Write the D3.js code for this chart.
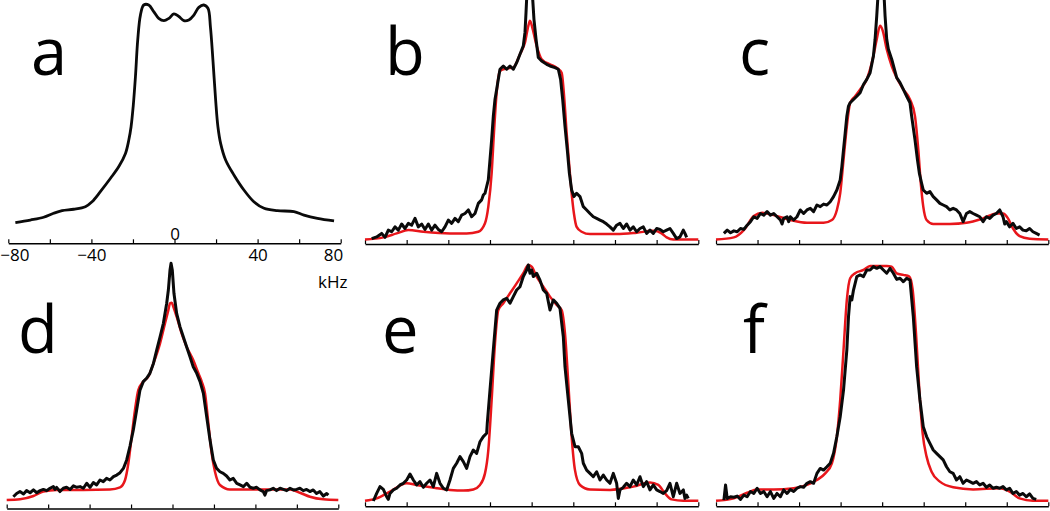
<!DOCTYPE html>
<html>
<head>
<meta charset="utf-8">
<script src="https://cdn.jsdelivr.net/npm/d3@7"></script>
<style>
  body { margin: 0; background: #fff; }
  svg { display: block; }
  text { font-family: "Open Sans", "Noto Sans", sans-serif; }
</style>
</head>
<body>
<svg id="chart" width="1050" height="511"></svg>
<script>
// frequency axis (kHz)
var xTicks = [-80, -60, -40, -20, 0, 20, 40, 60, 80];
var xTickLabels = [-80, -40, 0, 40, 80];
var panelLetters = ["a", "b", "c", "d", "e", "f"];

// spectra: [kHz, intensity %]
var specA = [[-76.6,7.2],[-69.4,8.3],[-63,9.5],[-58.2,11.2],[-54.1,12.3],[-48.5,12.9],[-42.9,14],[-39.7,16.1],[-35.7,20.4],[-30.8,26.1],[-26.8,31.1],[-23.6,36.7],[-22,42.4],[-20.9,48.1],[-19.9,56.6],[-18.8,69.4],[-17.7,85.1],[-16.4,95.7],[-14.8,100],[-12.4,100],[-10,97.2],[-7.6,94.3],[-5.1,93.3],[-2.7,94.3],[-0.3,96.2],[2.1,95.1],[4.5,93.3],[6.9,93.6],[9.3,95.7],[11.7,99],[14.1,100],[16.1,98.6],[17.3,90.6],[18.5,76.5],[19.8,59.5],[20.9,48.1],[22.2,41],[24.6,33.9],[28.6,27.5],[33.4,21.1],[38.2,16.1],[43.1,13.3],[49.5,12.3],[57.5,11.9],[62.3,10.4],[68.8,9],[76.8,7.9]];

var specB = [[-76.8,0.4],[-74.4,1.1],[-72,2.6],[-70.4,0.9],[-68.8,4],[-67.2,3.3],[-65.6,5.4],[-64,4],[-62.4,6.6],[-60.8,4.7],[-59.2,6.9],[-57.6,6.1],[-56,9],[-54.4,5.4],[-52.8,6.6],[-51.2,4.3],[-49.6,6.6],[-48,4],[-46.4,6.1],[-44.8,4.3],[-43.2,3.3],[-41.6,5.4],[-40,8.3],[-38.4,6.9],[-36.8,9],[-35.2,7.6],[-33.6,10.4],[-32,11.1],[-30.4,12.6],[-28.8,9.7],[-27.2,11.1],[-25.6,15.4],[-24,16.9],[-23.2,19],[-22.4,19.7],[-21.6,22.6],[-20.8,25.4],[-20,34],[-19.2,42.6],[-18.4,52.6],[-17.6,59.7],[-16.8,64],[-16,68.3],[-15.2,72.6],[-13.6,74],[-12,72.6],[-10.4,74],[-8.8,72.6],[-7.2,75.4],[-5.6,79],[-4,82.6],[-3.2,88.3],[-2.7,96.9],[-2.4,102.6],[-1,125],[0.5,102.6],[1.1,94],[2.1,85.4],[3.2,77.6],[4.8,76.1],[7.2,74.7],[8.8,74],[11.2,73.3],[12.8,72.6],[13.9,68.3],[14.9,59.7],[16,48.3],[17.1,38.3],[18.1,28.3],[19.2,21.1],[20.3,18.3],[21.6,19.7],[23.2,18.3],[24.8,14],[26.4,12.6],[28,11.1],[29.6,9.7],[31.2,9],[32.8,8.3],[34.4,7.6],[36,6.6],[37.6,5.4],[39.2,4],[40.8,6.1],[42.4,6.9],[44,4.7],[45.6,6.6],[47.2,4],[48.8,5.4],[50.4,3.3],[52,4.7],[53.6,5.4],[55.2,2.6],[56.8,4],[58.4,2.6],[60,4.7],[61.6,4.3],[63.2,3.3],[64.8,4],[66.4,4.7],[68,2.6],[69.6,0.4],[71.2,1.1],[72.8,4],[73.6,2.6],[74.4,0.9]];
var fitB = [[-80,0],[-71.2,0.9],[-64.8,2.6],[-59.2,4],[-52,3.3],[-39.2,2.6],[-31.2,2.6],[-25.6,3.3],[-22.4,6.9],[-20.8,14],[-19.2,28.3],[-18.1,45.4],[-16.8,62.6],[-15.2,71.9],[-12,72.9],[-8.8,73.3],[-5.6,79],[-3.2,84],[-1.6,91.1],[-0.8,93.3],[0.5,89.7],[2.4,82.6],[4.8,76.9],[8.8,74.7],[12,73.3],[14.4,71.1],[15.7,59.7],[16.8,45.4],[18.1,31.1],[19.2,19.7],[20.3,11.1],[21.6,5.4],[24,3.3],[28,2.3],[40.8,2.3],[50.4,2.9],[58.4,3.7],[62.4,2.6],[64.8,0.9],[68,0],[80,0]];

var specC = [[-76.2,2.6],[-74.6,4],[-73,2.9],[-71.4,3.7],[-69.8,3.3],[-68.2,4.7],[-66.6,4.3],[-65,6.1],[-63.4,7.6],[-61.8,9.7],[-60.2,9],[-58.6,11.1],[-57,10.4],[-55.4,11.9],[-53.8,10.4],[-52.2,11.1],[-50.6,9.7],[-49,8.3],[-48.2,6.6],[-47.4,9],[-45.8,9.7],[-45,7.6],[-44.2,9.7],[-42.6,8.3],[-41,9.7],[-39.4,12.6],[-37.8,11.1],[-36.2,12.6],[-34.6,13.3],[-33,11.9],[-31.4,14.7],[-29.8,14],[-28.2,15.1],[-26.6,14.7],[-25,16.1],[-23.4,18.3],[-21.8,21.1],[-20.2,25.4],[-19.4,31.1],[-18.6,38.3],[-17.8,45.4],[-17,52.6],[-16.2,56.9],[-15.4,58.3],[-13.8,59.7],[-12.2,61.1],[-10.6,62.6],[-9,66.1],[-7.4,68.3],[-5.8,71.1],[-4.2,78.3],[-3.4,85.4],[-2.6,95.4],[-2.1,102.6],[-0.5,125],[1,102.6],[1.4,95.4],[2.2,85.4],[3,81.1],[4.6,76.9],[7,69],[8.6,66.9],[10.2,64],[11.8,61.1],[13.4,58.3],[14.2,52.6],[15.8,42.6],[17,34],[17.9,28.3],[19,24],[19.8,21.1],[21.4,19.7],[23,20.4],[24.6,18.3],[26.2,16.9],[27.8,15.4],[29.4,14.7],[31,14],[32.6,12.6],[34.2,13.3],[35.8,12.6],[37.4,11.1],[39,7.6],[40.6,11.1],[42.2,11.9],[43.8,11.1],[45.4,10.4],[47,9.7],[48.6,7.6],[50.2,9.7],[51.8,9],[53.4,10.4],[55,11.1],[56.6,12.6],[58.2,9.7],[59,6.6],[59.8,7.6],[61.4,5.4],[63,6.9],[64.6,4.7],[66.2,5.4],[67.8,4],[69.4,3.7],[71,4.7],[72.6,3.3],[74.2,2.6],[75.8,1.9]];
var fitC = [[-80,0],[-71.4,0.9],[-66.6,4],[-61.8,10],[-57.8,11.4],[-52.2,10.4],[-44.2,8.3],[-36.2,7.1],[-28.2,7.1],[-24.2,8.3],[-21.8,12.6],[-20.2,19.7],[-18.6,34],[-17,48.3],[-15.4,58.3],[-13,61.1],[-10.6,64],[-7.4,68.3],[-4.2,78.3],[-2.6,85.4],[-1,91.1],[0.3,89],[2.2,81.1],[4.6,74],[7,69],[10.2,64],[13.4,59.7],[15.8,52.6],[17.4,38.3],[18.6,24],[19.8,14],[21.4,8.3],[24.6,6.6],[32.6,6.6],[40.6,7.1],[48.6,9],[55,11.1],[58.2,11.1],[60.6,9],[63,4.7],[66.2,1.4],[71,0.3],[80,0]];

var specD = [[-76.8,1.8],[-75.2,3.2],[-73.6,4],[-71.9,3],[-70.4,4.4],[-68.7,3.5],[-67.1,4.7],[-65.5,3.5],[-63.9,4.4],[-62.3,4.9],[-60.7,4.4],[-59.1,5.4],[-57.5,6.1],[-56.7,4.9],[-55.9,5.8],[-54.3,4],[-52.7,5.4],[-51.1,5.8],[-49.4,4.9],[-47.8,6.4],[-46.2,5.8],[-44.6,6.1],[-43,5.4],[-41.4,7.5],[-39.8,5.8],[-38.2,7.8],[-36.6,6.8],[-35,8.9],[-33.4,8.2],[-31.8,9.6],[-30.2,8.9],[-28.5,10.3],[-26.9,11],[-25.3,12],[-23.7,13.8],[-22.1,17.4],[-20.5,23.3],[-18.9,30.1],[-17.3,38.6],[-15.7,47],[-14.1,50.6],[-12.5,52],[-10.9,54.1],[-9.2,58.3],[-7.6,64],[-6,69.6],[-4.4,75.3],[-2.8,83.8],[-2,89.4],[-1.2,97.9],[-0.7,100.7],[-0.1,97.9],[0.7,88],[2,79.5],[3.6,73.9],[5.2,69.6],[6.8,65.4],[8.4,61.2],[10,56.9],[11.7,54.1],[13.3,50.6],[14.9,45.6],[16.5,35.7],[18.1,25.8],[19.7,17.4],[21.3,13.8],[22.9,12.4],[24.5,11.7],[26.1,10.6],[27.7,8.9],[29.3,9.6],[31,7.5],[32.6,6.8],[34.2,6.1],[35.8,7.5],[37.4,5.8],[39,5.4],[40.6,5.8],[42.2,4.7],[43.8,4],[44.6,2.5],[45.4,4.4],[47,4.7],[48.6,5.4],[50.2,4.4],[51.9,5.4],[53.5,4.9],[55.1,4.4],[56.7,5.4],[58.3,4.7],[59.9,4.9],[61.5,5.4],[63.1,4.4],[64.7,4.9],[66.3,4],[67.9,4.7],[69.5,3.2],[71.1,4],[72.8,2.1],[74.4,3.2],[75.2,2.5]];
var fitD = [[-80,0.4],[-73.6,0.7],[-67.1,2.1],[-62.3,4],[-55.9,4.7],[-43,4.7],[-30.2,4.9],[-25.3,5.8],[-22.9,8.9],[-21.3,16],[-19.7,27.3],[-18.1,38.6],[-16.5,47],[-14.1,50.6],[-11.7,52.7],[-9.2,58.3],[-6,66.8],[-3.6,75.3],[-2,80.9],[-1.2,83.8],[-0.4,84],[0.4,82.3],[2,78.1],[4.4,71],[6.8,65.4],[10,59.7],[12.5,54.1],[14.1,50.6],[15.7,45.6],[17.3,32.9],[18.9,20.2],[20.5,12.4],[22.9,6.8],[27.7,4.9],[45.4,4.9],[56.7,4.9],[61.5,3.5],[66.3,1.8],[72.8,0.7],[80,0.4]];

var specE = [[-76,0],[-74.4,3.2],[-72.8,6.1],[-71.2,4.9],[-69.6,1.8],[-68.8,0.7],[-68,3.2],[-66.4,4.7],[-64.8,5.4],[-63.2,6.8],[-61.6,7.5],[-60,8.9],[-58.4,11.4],[-56.8,8.9],[-55.2,6.8],[-53.6,8.2],[-52,5.8],[-50.4,7.5],[-48.8,8.9],[-47.2,6.1],[-45.6,11.7],[-44,7.5],[-42.4,5.4],[-40.8,4.7],[-39.2,8.9],[-37.6,13.8],[-36,16],[-34.4,18.8],[-32.8,16.7],[-31.2,13.8],[-29.6,18.8],[-28,21.6],[-26.4,20.2],[-24.8,25.1],[-23.2,27.3],[-21.6,28.7],[-21.3,32.9],[-20,47],[-18.4,64],[-16.8,80.9],[-15.2,83.8],[-13.6,85.2],[-12,85.9],[-10.4,83.8],[-8.8,86.6],[-7.2,89.4],[-5.6,90.8],[-4,95.1],[-2.4,97.9],[-1.6,100],[-0.8,96.5],[0,97.9],[0.8,95.1],[2.4,96.5],[4,93.6],[5.6,89.4],[7.2,88],[8.8,80.9],[10.4,85.2],[12,83.8],[13.6,81.6],[15.2,69.6],[16,56.9],[17.6,42.8],[19.2,28.7],[20.8,23],[22.4,23],[24,20.2],[24.8,16],[26.4,13.1],[28,11.7],[29.6,10.3],[31.2,12.4],[32.8,8.9],[34.4,11],[36,8.9],[37.6,7.5],[39.2,11.7],[40.8,7.5],[41.6,1.1],[42.4,4.7],[44,5.8],[45.6,7.5],[47.2,6.1],[48.8,8.9],[50.4,6.8],[52,10.3],[53.6,6.1],[55.2,8.2],[56.8,4.7],[58.4,6.8],[60,4.7],[61.6,4],[63.2,3.2],[64.8,4.4],[66.4,7.5],[68,1.8],[69.6,7.5],[71.2,3.2],[72.8,4.7],[73.6,1.1],[74.4,2.5],[75.2,1.1]];
var fitE = [[-80,0.1],[-74.4,1.1],[-68,4],[-60,7.5],[-55.2,6.8],[-45.6,5.4],[-39.2,4.7],[-32.8,4.4],[-28,4.9],[-24.8,6.8],[-22.4,11.7],[-20.8,21.6],[-19.2,42.8],[-17.6,66.8],[-16,80.9],[-13.6,83.8],[-10.4,88],[-7.2,92.2],[-4,96.5],[-1.6,100],[0,99.3],[2.4,95.1],[5.6,90.8],[8.8,86.6],[12,83.1],[14.4,80.9],[16,71],[17.6,49.9],[19.2,27.3],[20.8,13.1],[23.2,6.8],[28,4.9],[37.6,4.7],[48.8,6.1],[56.8,7.8],[60.8,6.8],[64,3.2],[67.2,0.7],[72.8,0.1],[80,0.1]];

var specF = [[-76.2,0.4],[-75.4,6.8],[-74.6,1.1],[-73,1.8],[-71.4,1.6],[-69.8,2.1],[-68.2,0.7],[-66.6,2.5],[-65,1.8],[-63.4,4],[-61.8,3.2],[-60.2,5.4],[-58.6,3.2],[-57,4],[-55.4,1.8],[-53.8,4],[-52.2,1.1],[-50.6,3.2],[-49,1.8],[-47.4,4.7],[-45.8,3.2],[-44.2,4.9],[-42.6,4],[-41,5.4],[-39.4,6.1],[-37.8,5.8],[-36.2,7.5],[-34.6,8.2],[-33,7.5],[-31.4,11.7],[-29.8,13.8],[-28.2,13.1],[-26.6,14.5],[-25,16],[-23.4,20.2],[-21.8,27.3],[-20.2,35.7],[-18.6,47],[-17,64],[-16.2,78.1],[-15.4,86.6],[-14.6,85.2],[-13.8,89.4],[-12.2,95.1],[-10.6,95.8],[-9,95.1],[-7.4,97.9],[-5.8,97.9],[-4.2,99.3],[-2.6,98.6],[-1,99.3],[0.6,97.9],[2.2,96.5],[3.8,98.6],[5.4,96.5],[7,93.9],[8.6,94.4],[10.2,92.9],[11.8,94.4],[13.4,93.6],[15,78.1],[16.6,56.9],[18.2,42.8],[19.8,31.5],[21.4,27.3],[23,24.4],[24.6,21.6],[26.2,20.2],[27.8,18.8],[29.4,17.4],[31,14.5],[32.6,12.4],[34.2,11.7],[35.8,8.9],[37.4,10.3],[39,7.5],[40.6,8.9],[42.2,8.2],[43.8,7.5],[45.4,8.2],[47,6.8],[48.6,7.5],[50.2,5.8],[51.8,6.8],[53.4,5.4],[55,5.8],[56.6,5.4],[58.2,6.1],[59.8,4.7],[61.4,5.4],[63,3.2],[64.6,4],[66.2,2.5],[67.8,3.2],[69.4,1.8],[71,3],[72.6,1.1],[74.2,0.7]];
var fitF = [[-80,0.1],[-71.4,1.1],[-65,3.5],[-60.2,4.9],[-52.2,4.9],[-42.6,5.4],[-36.2,6.8],[-31.4,8.9],[-27.4,11.7],[-24.2,16],[-21.8,27.3],[-20.2,42.8],[-18.6,64],[-17,85.2],[-15.4,94.4],[-13,96.5],[-9,97.9],[-5.8,99.6],[-2.6,99.6],[2.2,99.6],[4.6,99.3],[7,96.5],[10.2,95.8],[13.1,95.1],[14.7,89.4],[16.3,71],[17.9,47],[19.5,28.7],[21.4,18.8],[23.8,12.4],[27.8,8.2],[34.2,5.8],[43.8,4.9],[56.6,5.4],[61.4,4],[66.2,1.1],[72.6,0.1],[80,0.1]];

var spectra = [specA, specB, specC, specD, specE, specF];
var fits = [null, fitB, fitC, fitD, fitE, fitF];

// page layout (pixels)
var rows = [[239.5, 5], [501, 265]];
var layout = [
	{x0: 8.3, x1: 340.7, axisY: 243.3, row: 0, lx: 31, ly: 75},
	{x0: 365, x1: 698.3, axisY: 244, row: 0, lx: 385, ly: 75},
	{x0: 716, x1: 1048.3, axisY: 244, row: 0, lx: 739, ly: 75},
	{x0: 6.7, x1: 338.3, axisY: 508.5, row: 1, lx: 18, ly: 353},
	{x0: 365, x1: 698.3, axisY: 506.3, row: 1, lx: 382, ly: 353},
	{x0: 716, x1: 1048.3, axisY: 506.3, row: 1, lx: 743, ly: 353}
];

var svg = d3.select("#chart");
svg.append("rect").attr("width", 1050).attr("height", 511).attr("fill", "#fff");

layout.forEach(function(p, i) {
	var x = d3.scaleLinear().domain([-80, 80]).range([p.x0, p.x1]);
	var y = d3.scaleLinear().domain([0, 100]).range(rows[p.row]);
	var g = svg.append("g").attr("class", "panel-" + panelLetters[i]);

	var axis = d3.axisBottom(x)
		.tickValues(xTicks)
		.tickSizeInner(-4)
		.tickSizeOuter(0)
		.tickPadding(6)
		.tickFormat(function(d) {
			return (i == 0 && xTickLabels.indexOf(d) >= 0) ? d3.format("d")(d) : "";
		});
	var ax = g.append("g").attr("transform", "translate(0," + p.axisY + ")").call(axis);
	ax.select(".domain").attr("stroke", "#000").attr("stroke-width", 1.4);
	ax.selectAll(".tick line").attr("stroke", "#000").attr("stroke-width", 1.2);
	ax.selectAll(".tick text")
		.attr("fill", "#000")
		.style("font-size", "17px")
		.style("font-family", "'Open Sans', 'Noto Sans', sans-serif");
	if (i == 0) {
		ax.selectAll(".tick text").filter(function(d) { return d == 0; })
			.attr("y", -3).attr("dy", 0);
		ax.selectAll(".tick text").filter(function(d) { return d == -80; })
			.attr("text-anchor", "start").attr("dx", -8.5);
		ax.selectAll(".tick text").filter(function(d) { return d == 80; })
			.attr("text-anchor", "end").attr("dx", 2);
		g.append("text")
			.attr("x", x(80) - 8)
			.attr("y", 288)
			.attr("text-anchor", "middle")
			.style("font-size", "17px")
			.text("kHz");
	}

	var line = d3.line().x(function(d) { return x(d[0]); }).y(function(d) { return y(d[1]); });

	if (fits[i]) {
		g.append("path")
			.datum(fits[i])
			.attr("fill", "none")
			.attr("stroke", "#e8161b")
			.attr("stroke-width", 2.5)
			.attr("stroke-linejoin", "round")
			.attr("d", line.curve(d3.curveMonotoneX));
		line.curve(d3.curveLinear);
	} else {
		line.curve(d3.curveCatmullRom.alpha(0.5));
	}

	g.append("path")
		.datum(spectra[i])
		.attr("fill", "none")
		.attr("stroke", "#0a0a0a")
		.attr("stroke-width", i == 0 ? 2.8 : 3)
		.attr("stroke-linejoin", "round")
		.attr("d", line);

	g.append("text")
		.attr("x", p.lx)
		.attr("y", p.ly)
		.style("font-size", "65px")
		.style("font-weight", 500)
		.attr("fill", "#000")
		.text(panelLetters[i]);
});
</script>
</body>
</html>
